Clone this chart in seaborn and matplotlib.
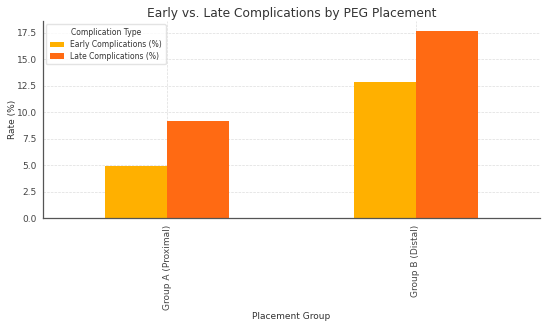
import pandas as pd
import matplotlib
matplotlib.use("Agg")
import matplotlib.pyplot as plt
import seaborn as sns

# data
groups = ["Group A (Proximal)", "Group B (Distal)"]
early_rates = [4.9, 12.9]
late_rates = [9.2, 17.7]
series_names = ["Early Complications (%)", "Late Complications (%)"]
palette = ["#FFB000", "#FF6A13"]

df = pd.DataFrame({
    "Placement Group": groups * 2,
    "Rate (%)": early_rates + late_rates,
    "Complication Type": [series_names[0]] * len(groups) + [series_names[1]] * len(groups),
})

sns.set_style("whitegrid")
plt.rcParams["font.family"] = ["DejaVu Sans"]
text_col = "#333333"

fig, ax = plt.subplots(figsize=(5.5, 3.28), dpi=100)
sns.barplot(data=df, x="Placement Group", y="Rate (%)", hue="Complication Type",
            palette=palette, width=0.5, saturation=1, linewidth=0, ax=ax)

ax.set_xlim(-0.5, 1.5)
ax.set_ylim(0, max(late_rates) * 1.05)
ax.set_title("Early vs. Late Complications by PEG Placement", fontsize=8.8,
             color=text_col, pad=3)
ax.set_xlabel("Placement Group", fontsize=6.5, color=text_col, labelpad=2)
ax.set_ylabel("Rate (%)", fontsize=6.5, color=text_col, labelpad=0)
ax.tick_params(axis="both", labelsize=6.5, colors="#444444", length=2.5, width=0.6,
               pad=2, color="#555555")
plt.setp(ax.get_xticklabels(), rotation=90)

ax.grid(True, linestyle="--", linewidth=0.5, color="#dddddd")
ax.set_axisbelow(True)
for side in ["top", "right"]:
    ax.spines[side].set_visible(False)
for side in ["left", "bottom"]:
    ax.spines[side].set_color("#555555")
    ax.spines[side].set_linewidth(0.9)

leg = ax.legend(title="Complication Type", loc="upper left", fontsize=5.5, title_fontsize=5.5,
                frameon=True, borderpad=0.5, handlelength=1.9, labelspacing=0.35,
                borderaxespad=0.4)
leg.get_frame().set_edgecolor("#dddddd")
leg.get_title().set_color(text_col)
for t in leg.get_texts():
    t.set_color(text_col)

fig.subplots_adjust(left=0.078, right=0.982, top=0.935, bottom=0.335)
fig.savefig("out.png", dpi=100)
